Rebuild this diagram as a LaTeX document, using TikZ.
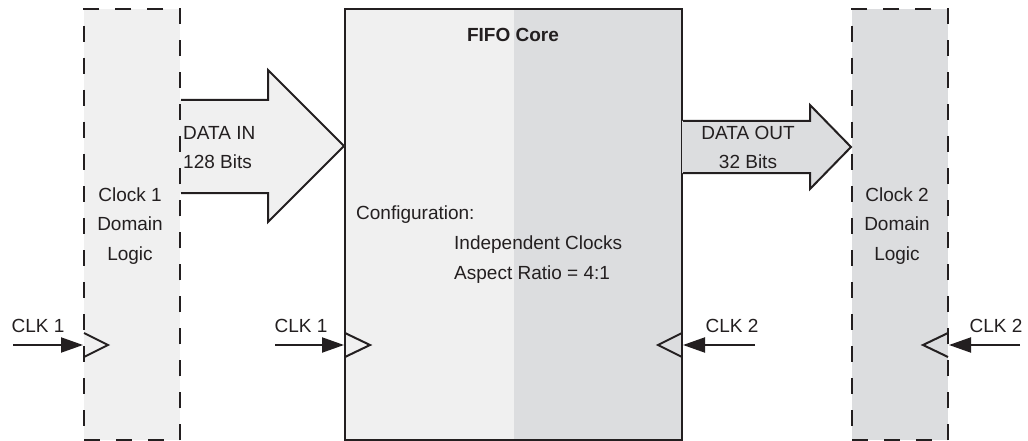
\documentclass[tikz,border=0pt]{standalone}
\usepackage{fontspec}
\setmainfont{Liberation Sans}
\usetikzlibrary{arrows.meta}
\definecolor{lg}{HTML}{F0F0F0}
\definecolor{dg}{HTML}{DCDDDF}
\definecolor{ink}{HTML}{231F20}
\begin{document}
\begin{tikzpicture}[x=1pt,y=-1pt,
  lw/.style={line width=2pt, draw=ink},
  dbox/.style={lw, dash pattern=on 16pt off 16pt, minimum width=96pt, minimum height=431pt, inner sep=0pt},
  txt/.style={font=\fontsize{19}{29.5}\selectfont, text=ink, inner sep=0pt},
  clk/.style={lw, -{Triangle[length=22pt,width=15pt]}},
  tri/.style={lw, line join=miter}]
\useasboundingbox (0,0) rectangle (1028,441);
% FIFO core fills
\fill[lg] (345,9) rectangle (514,440);
\fill[dg] (514,9) rectangle (682,440);
\node[lw, minimum width=337pt, minimum height=431pt, inner sep=0pt] (fifo) at (513.5,224.5) {};
% domain boxes
\node[dbox, fill=lg] (c1) at (132,224.5) {};
\node[dbox, fill=dg] (c2) at (900,224.5) {};
% data in arrow
\fill[lg] (180,100) -- (268,100) -- (268,70) -- (345,146) -- (268,222) -- (268,193) -- (180,193) -- cycle;
\draw[lw, line join=miter] (c1.east |- 0,100) -- (268,100) -- (268,70) -- (fifo.west |- 0,146) -- (268,222) -- (268,193) -- (c1.east |- 0,193);
% data out arrow
\fill[dg] (682,121) -- (810,121) -- (810,105) -- (852,147) -- (810,189) -- (810,173) -- (682,173) -- cycle;
\draw[lw, line join=miter] (fifo.east |- 0,121) -- (810,121) -- (810,105) -- (c2.west |- 0,147) -- (810,189) -- (810,173) -- (fifo.east |- 0,173);
% redraw dashed borders on top
\node[dbox] (c1b) at (c1) {};
\node[dbox] (c2b) at (c2) {};
% clock triangles
\draw[tri] (84,333) -- (108,345) -- (84,357);
\draw[tri] (345,333) -- (370,345) -- (345,357);
\draw[tri] (682,333) -- (658,345) -- (682,357);
\draw[tri] (948,333) -- (923,345) -- (948,357);
% clock arrows
\coordinate (a1) at (13,345);
\coordinate (a2) at (275,345);
\coordinate (a3) at (755,345);
\coordinate (a4) at (1020,345);
\draw[clk] (a1) -- (c1.west |- a1);
\draw[clk] (a2) -- (fifo.west |- a2);
\draw[clk] (a3) -- (fifo.east |- a3);
\draw[clk] (a4) -- (c2.east |- a4);
% labels
\node[txt] (l1) at (38,326) {CLK 1};
\node[txt] (l2) at (301,326) {CLK 1};
\node[txt] (l3) at (732,326) {CLK 2};
\node[txt] (l4) at (996,326) {CLK 2};
\node[txt, align=center] (c1t) at (130,226) {Clock 1\\Domain\\Logic};
\node[txt, align=center] (c2t) at (897,226) {Clock 2\\Domain\\Logic};
\node[txt, align=left, anchor=west] (din) at (183,147.5) {DATA IN\\128 Bits};
\node[txt, align=center] (dout) at (748,147.5) {DATA OUT\\32 Bits};
\node[txt, font=\fontsize{19}{23}\selectfont\bfseries] (title) at (513,35) {FIFO Core};
\node[txt, anchor=west] (cfg) at (356,215) {Configuration:};
\node[txt, anchor=west] (ic) at (454,245) {Independent Clocks};
\node[txt, anchor=west] (ar) at (454,275) {Aspect Ratio = 4:1};
\end{tikzpicture}
\end{document}
